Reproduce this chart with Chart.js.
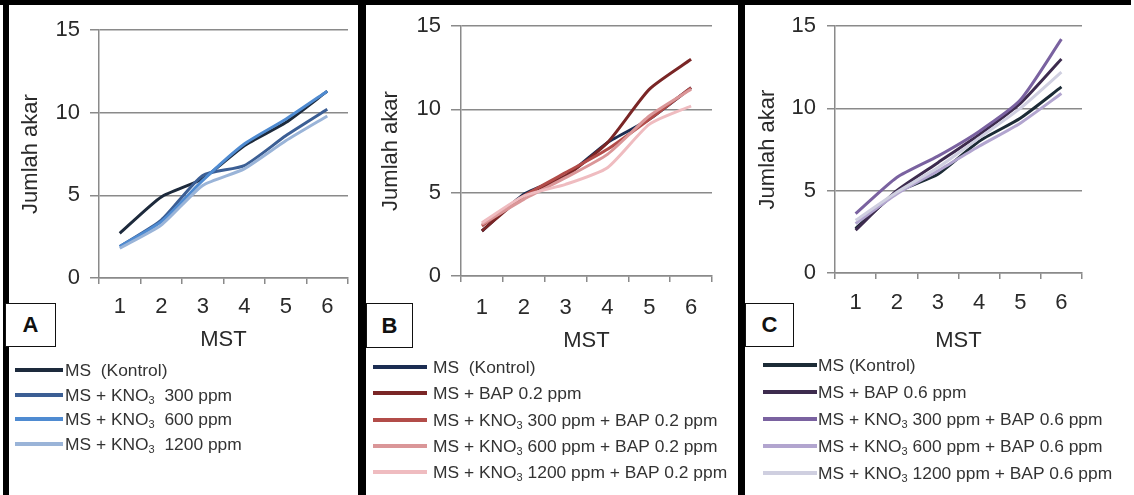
<!DOCTYPE html>
<html><head><meta charset="utf-8">
<script src="https://cdn.jsdelivr.net/npm/chart.js@4.4.1/dist/chart.umd.min.js"></script>
<style>
html,body{margin:0;padding:0;background:#fff;}
#wrap{position:relative;width:1134px;height:495px;overflow:hidden;background:#fff;font-family:"Liberation Sans",Arial,sans-serif;}
.bar{position:absolute;background:#000;}
canvas{position:absolute;top:0;}
.box{position:absolute;border:1.5px solid #111;background:#fff;font-weight:bold;font-size:22px;color:#111;display:flex;align-items:center;justify-content:center;box-sizing:border-box;}
.leg{position:absolute;font-size:17.4px;color:#333;white-space:nowrap;line-height:20px;}
.leg sub{font-size:11px;vertical-align:-3px;line-height:0;}
.sw{position:absolute;height:4px;}
</style></head><body>
<div id="wrap">
  <div class="bar" style="left:0;top:0;width:1131px;height:5px;"></div>
  <div class="bar" style="left:3px;top:0;width:6px;height:495px;"></div>
  <div class="bar" style="left:358px;top:0;width:8px;height:495px;"></div>
  <div class="bar" style="left:738px;top:0;width:7px;height:495px;"></div>
  <canvas id="cA" width="348" height="355" style="left:10px;"></canvas>
  <canvas id="cB" width="371" height="355" style="left:367px;"></canvas>
  <canvas id="cC" width="386" height="355" style="left:745px;"></canvas>
  <div class="box" style="left:5px;top:303px;width:51px;height:44px;">A</div>
  <div class="box" style="left:366px;top:303px;width:47px;height:45px;">B</div>
  <div class="box" style="left:745px;top:303px;width:49px;height:44px;">C</div>
</div>
<script>
// ---- data ----
const weeks = ['1', '2', '3', '4', '5', '6'];
const yTickValues = [0, 5, 10, 15];
const yTitle = 'Jumlah akar';
const xTitle = 'MST';

const kontrol  = [2.7, 4.9, 6.0, 8.0, 9.4, 11.3];

const aKno300  = [1.9, 3.5, 6.2, 6.8, 8.6, 10.2];
const aKno600  = [1.9, 3.4, 5.9, 8.1, 9.6, 11.3];
const aKno1200 = [1.8, 3.2, 5.6, 6.6, 8.3, 9.8];

const bBap     = [2.7, 4.8, 6.0, 8.0, 11.2, 13.0];
const bKno300  = [3.0, 4.8, 6.2, 7.6, 9.4, 11.3];
const bKno600  = [3.1, 4.6, 5.9, 7.3, 9.6, 11.2];
const bKno1200 = [3.2, 4.8, 5.5, 6.5, 9.1, 10.2];

const cBap     = [2.6, 5.0, 6.7, 8.4, 10.3, 13.0];
const cKno300  = [3.6, 5.8, 7.1, 8.6, 10.5, 14.2];
const cKno600  = [3.0, 4.8, 6.2, 7.7, 9.1, 10.9];
const cKno1200 = [3.2, 4.9, 6.4, 8.2, 10.0, 12.2];

const labelsA = ['MS  (Kontrol)', 'MS + KNO3  300 ppm', 'MS + KNO3  600 ppm', 'MS + KNO3  1200 ppm'];
const labelsB = ['MS  (Kontrol)', 'MS + BAP 0.2 ppm', 'MS + KNO3 300 ppm + BAP 0.2 ppm', 'MS + KNO3 600 ppm + BAP 0.2 ppm', 'MS + KNO3 1200 ppm + BAP 0.2 ppm'];
const labelsC = ['MS (Kontrol)', 'MS + BAP 0.6 ppm', 'MS + KNO3 300 ppm + BAP 0.6 ppm', 'MS + KNO3 600 ppm + BAP 0.6 ppm', 'MS + KNO3 1200 ppm + BAP 0.6 ppm'];

// ---- styles ----
const colorsA = ['#1d2a3c', '#3b5e94', '#4f8bd1', '#9ab4d8'];
const colorsB = ['#1b2d52', '#7a2626', '#b24c49', '#da9698', '#efbcc0'];
const colorsC = ['#1c2b36', '#3d2b4e', '#7a62a0', '#b2a5cf', '#cfcfe0'];

const panels = [
  {id:'cA', left:10,  series:[kontrol, aKno300, aKno600, aKno1200], labels:labelsA, colors:colorsA,
   plot:{l:99, r:348, t:30, b:278}, width:348, height:355, yTitlePad:8, yTickLen:9, yTickPad:10, xTickPad:10, xTitlePad:2,
   leg:{x:15, w:48, y0:370, dy:24.7, tx:65}},
  {id:'cB', left:367, series:[kontrol, bBap, bKno300, bKno600, bKno1200], labels:labelsB, colors:colorsB,
   plot:{l:461, r:712, t:26, b:276}, width:371, height:355, yTitlePad:11, yTickLen:10, yTickPad:10, xTickPad:13, xTitlePad:1,
   leg:{x:373, w:54, y0:367, dy:26.3, tx:433}},
  {id:'cC', left:745, series:[kontrol, cBap, cKno300, cKno600, cKno1200], labels:labelsC, colors:colorsC,
   plot:{l:835, r:1082, t:26, b:273}, width:386, height:355, yTitlePad:10, yTickLen:8, yTickPad:11, xTickPad:11, xTitlePad:1,
   leg:{x:763, w:54, y0:365, dy:27, tx:818}}
];

const FONT = '"Liberation Sans", Arial, sans-serif';
const GRID = '#8a8a8a';
const TXT = '#2a2a2a';

const wrap = document.getElementById('wrap');

panels.forEach(p => {
  const datasets = p.series.map((s, i) => ({
    label: p.labels[i],
    data: s,
    borderColor: p.colors[i],
    backgroundColor: p.colors[i],
    borderWidth: 3,
    pointRadius: 0,
    tension: 0.2,
    fill: false,
    order: p.series.length - i
  }));
  new Chart(document.getElementById(p.id), {
    type: 'line',
    data: { labels: weeks, datasets },
    options: {
      responsive: false,
      animation: false,
      events: [],
      layout: { padding: { left: 0, top: p.plot.t, right: p.left + p.width - p.plot.r, bottom: 0 } },
      plugins: { legend: { display: false }, tooltip: { enabled: false } },
      scales: {
        x: {
          offset: true,
          grid: { offset: true, drawOnChartArea: false, drawTicks: true, tickLength: 6, color: GRID, lineWidth: 1.5 },
          border: { color: GRID, width: 1.5 },
          ticks: { font: { family: FONT, size: 22 }, color: TXT, padding: p.xTickPad, maxRotation: 0 },
          title: { display: true, text: xTitle, font: { family: FONT, size: 22 }, color: TXT, padding: { top: 0, bottom: p.xTitlePad } },
          afterFit: s => { s.height = p.height - p.plot.b; }
        },
        y: {
          min: 0, max: 15,
          afterBuildTicks: s => { s.ticks = yTickValues.map(v => ({ value: v })); },
          grid: { color: GRID, lineWidth: 1.5, tickLength: p.yTickLen },
          border: { color: GRID, width: 1.5 },
          ticks: { font: { family: FONT, size: 22 }, color: TXT, padding: p.yTickPad },
          title: { display: true, text: yTitle, font: { family: FONT, size: 22 }, color: TXT, padding: { top: p.yTitlePad, bottom: 0 } },
          afterFit: s => { s.width = p.plot.l - p.left; }
        }
      }
    }
  });
  // legend built from the dataset labels/colours
  p.labels.forEach((lab, i) => {
    const y = p.leg.y0 + i * p.leg.dy;
    const sw = document.createElement('div');
    sw.className = 'sw';
    sw.style.cssText = `left:${p.leg.x}px;top:${y - 2}px;width:${p.leg.w}px;background:${p.colors[i]};`;
    wrap.appendChild(sw);
    const t = document.createElement('div');
    t.className = 'leg';
    t.style.cssText = `left:${p.leg.tx}px;top:${y - 10}px;`;
    t.innerHTML = lab.replace(/ /g, '&nbsp;').replace('KNO3', 'KNO<sub>3</sub>');
    wrap.appendChild(t);
  });
});
</script>
</body></html>
